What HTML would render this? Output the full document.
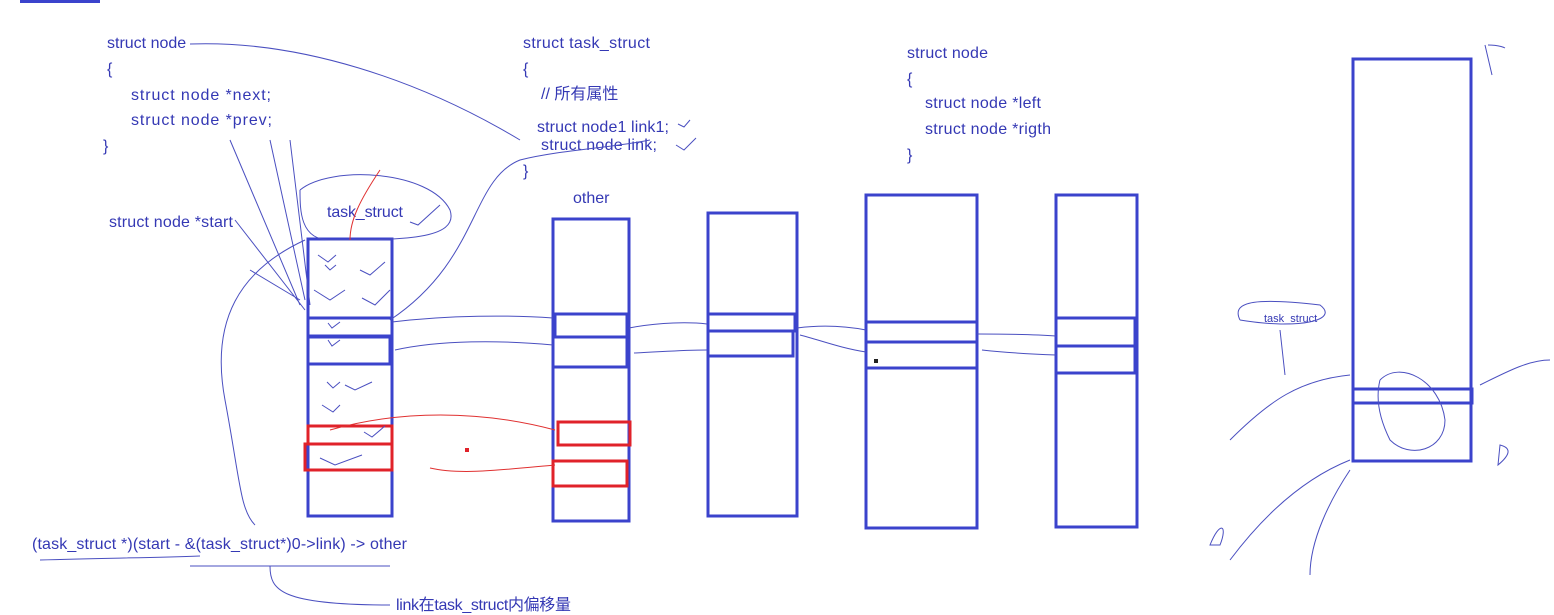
<!DOCTYPE html>
<html><head><meta charset="utf-8"><style>
body{margin:0;background:#fff;}
svg{display:block}
text{font-family:"Liberation Sans","Noto Sans CJK SC",sans-serif;fill:#3438b4;font-size:16px}
.b{fill:none;stroke:#3b43cc;stroke-width:3}
.r{fill:none;stroke:#e0222a;stroke-width:3}
.t{fill:none;stroke:#4a4fc0;stroke-width:1}
.tr{fill:none;stroke:#e03030;stroke-width:1}
</style></head><body>
<svg width="1554" height="615">
<rect x="20" y="0" width="80" height="3" fill="#3b43cc"/>
<g>
<text x="107" y="48">struct node</text><text x="107" y="74">{</text>
<text x="131" y="100" textLength="140">struct node *next;</text><text x="131" y="125" textLength="141">struct node *prev;</text>
<text x="103" y="151">}</text></g>
<g>
<text x="523" y="48" textLength="127">struct  task_struct</text><text x="523" y="74">{</text>
<text x="541" y="99">// 所有属性</text><text x="537" y="132" textLength="132">struct node1 link1;</text>
<text x="541" y="150" textLength="116">struct node link;</text><text x="523" y="176">}</text></g>
<g>
<text x="907" y="58" textLength="81">struct node</text><text x="907" y="84">{</text>
<text x="925" y="108" textLength="116">struct node *left</text><text x="925" y="134" textLength="126">struct node *rigth</text>
<text x="907" y="160">}</text></g>
<text x="109" y="227" textLength="124">struct node *start</text>
<text x="327" y="217" textLength="76">task_struct</text>
<text x="573" y="203">other</text>
<text x="1264" y="322" style="font-size:11px">task_struct</text>
<text x="32" y="549" textLength="375">(task_struct *)(start - &amp;(task_struct*)0-&gt;link) -&gt; other</text>
<text x="396" y="610" textLength="175">link在task_struct内偏移量</text>
<g>
<rect class="b" x="308" y="239" width="84" height="277"/>
<rect class="b" x="308" y="318" width="84" height="18"/><rect class="b" x="308" y="337" width="82" height="27"/>
<rect class="r" x="308" y="426" width="84" height="18"/><rect class="r" x="305" y="444" width="87" height="26"/></g>
<g>
<rect class="b" x="553" y="219" width="76" height="302"/>
<rect class="b" x="555" y="314" width="72" height="23"/><rect class="b" x="553" y="337" width="74" height="30"/>
<rect class="r" x="558" y="422" width="72" height="23"/><rect class="r" x="553" y="461" width="74" height="25"/></g>
<g>
<rect class="b" x="708" y="213" width="89" height="303"/>
<rect class="b" x="708" y="314" width="87" height="17"/><rect class="b" x="708" y="331" width="85" height="25"/></g>
<g>
<rect class="b" x="866" y="195" width="111" height="333"/>
<rect class="b" x="866" y="322" width="111" height="20"/><rect class="b" x="866" y="342" width="111" height="26"/>
<rect x="874" y="359" width="4" height="4" fill="#222"/></g>
<g>
<rect class="b" x="1056" y="195" width="81" height="332"/>
<rect class="b" x="1056" y="318" width="79" height="28"/><rect class="b" x="1056" y="346" width="79" height="27"/></g>
<g>
<rect class="b" x="1353" y="59" width="118" height="402"/>
<rect class="b" x="1353" y="389" width="119" height="14"/></g>
<rect x="465" y="448" width="4" height="4" fill="#e0222a"/>
<g>
<path class="t" d="M318 255 L328 262 L336 255 M325 265 L330 270 L336 265 M314 290 L330 300 L345 290 M360 270 L370 275 L385 262 M362 298 L375 305 L390 290 M328 323 L332 328 L340 322 M328 340 L332 346 L340 340 M327 382 L333 388 L340 382 M345 385 L355 390 L372 382 M322 405 L333 412 L340 405 M364 432 L372 437 L385 426 M320 458 L335 465 L362 455 M410 222 L418 225 L440 205 M678 124 L684 127 L690 120 M676 145 L684 150 L696 138"/>
</g>
<g>
<path class="t" d="M190 44 C300 40 420 80 520 140"/>
<path class="t" d="M392 322 C450 315 510 315 553 318"/>
<path class="t" d="M553 345 C500 340 440 340 395 350"/>
<path class="t" d="M629 328 C660 322 690 322 707 324"/>
<path class="t" d="M707 350 C680 350 660 352 634 353"/>
<path class="t" d="M797 328 C820 325 845 326 866 330"/>
<path class="t" d="M866 352 C840 348 820 340 800 335"/>
<path class="t" d="M977 334 C1000 334 1030 334 1056 336"/>
<path class="t" d="M1056 355 C1030 354 1000 352 982 350"/>
<path class="t" d="M390 320 C480 260 470 180 520 160 C560 150 610 148 650 140"/>
<path class="t" d="M300 190 C330 165 430 170 450 210 C460 240 400 240 330 240 C300 240 300 210 300 190"/>
<path class="t" d="M305 240 C240 270 210 320 225 400 C240 480 240 510 255 525"/>
<path class="t" d="M230 140 L300 305 M270 140 L305 300 M290 140 L310 305 M235 220 L305 310 M250 270 L300 300"/>
<path class="t" d="M40 560 C100 558 150 558 200 556 M190 566 L390 566"/>
<path class="t" d="M270 566 C270 590 280 605 390 605"/>
<path class="t" d="M1240 320 C1230 300 1260 298 1320 305 C1340 320 1300 330 1240 320"/>
<path class="t" d="M1230 440 C1270 400 1300 380 1350 375 M1350 460 C1300 480 1260 520 1230 560 M1350 470 C1330 500 1310 540 1310 575 M1480 385 C1510 370 1530 360 1550 360"/>
<path class="t" d="M1380 380 C1400 360 1440 380 1445 420 C1445 450 1410 460 1390 440 C1380 420 1375 400 1380 380"/>
<path class="t" d="M1485 45 L1492 75 M1488 45 C1500 45 1505 48 1505 48 M1498 465 C1510 455 1512 448 1500 445 Z M1210 545 C1220 520 1228 525 1220 545 Z M1280 330 L1285 375"/>
<path class="tr" d="M330 430 C400 410 480 410 555 430 M555 465 C500 470 460 475 430 468 M380 170 C360 200 350 220 350 240"/>
</g>
</svg>
</body></html>
